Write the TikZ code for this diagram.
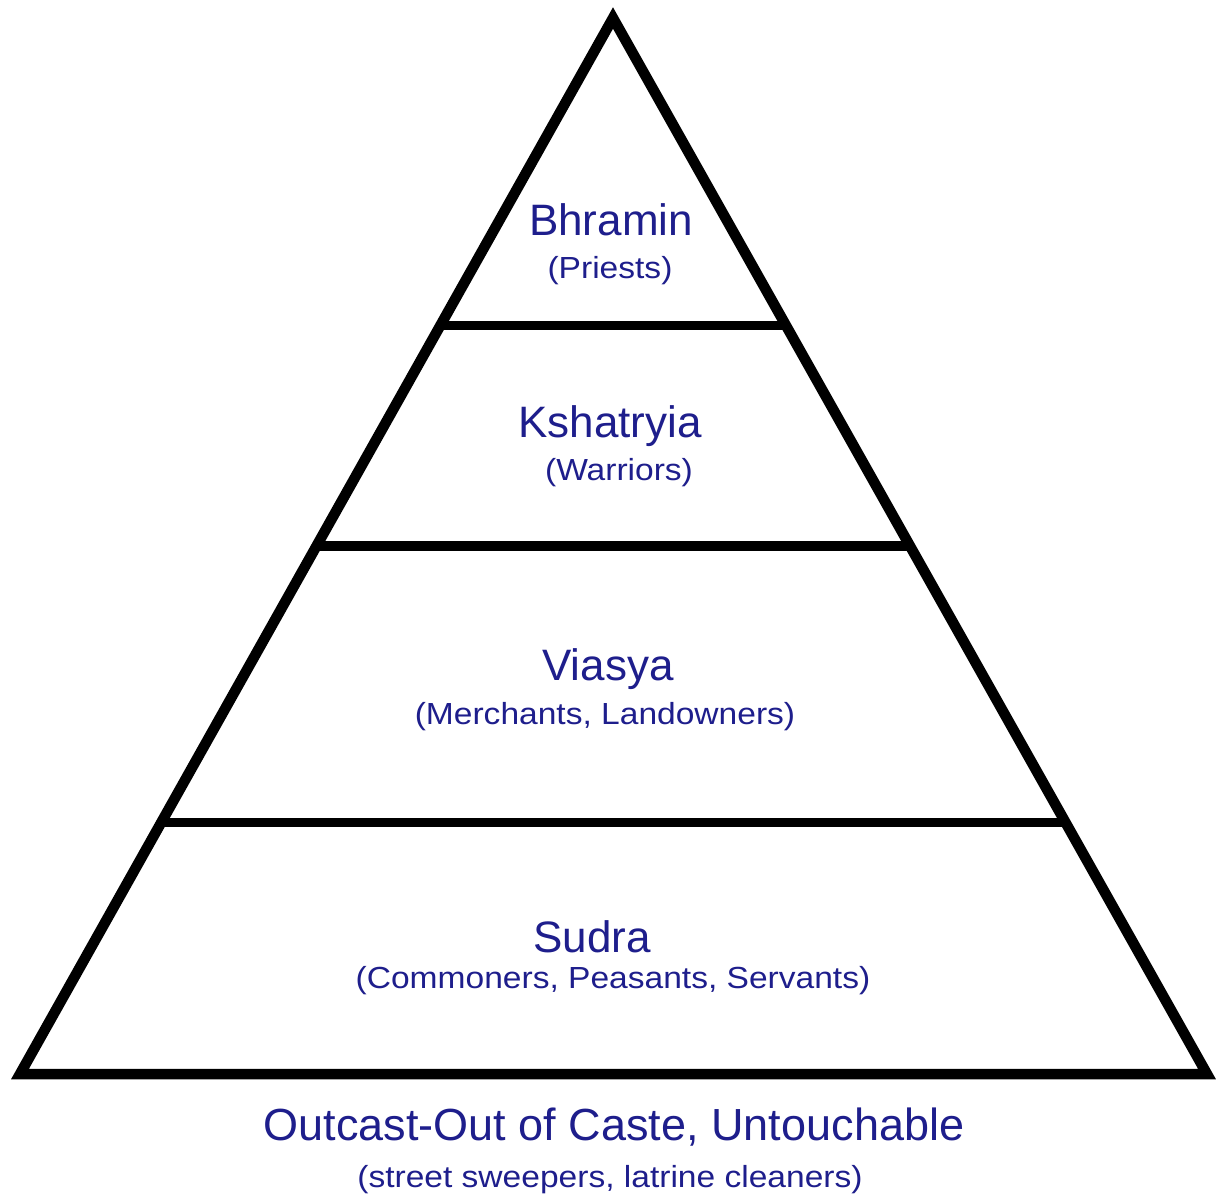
\documentclass[tikz,border=0pt]{standalone}
\usepackage{fontspec}
\usepackage{graphicx}
\setmainfont{Liberation Sans}
\usetikzlibrary{calc}
\definecolor{navy}{RGB}{30,30,140}
\tikzset{
  edge/.style={draw=black, line width=10.5pt, line join=miter, miter limit=10},
  tier/.style={draw=black, line width=9.5pt},
  title/.style={anchor=base, inner sep=0pt, text=navy, font=\fontsize{44}{44}\selectfont},
  sub/.style={anchor=base, inner sep=0pt, text=navy, font=\fontsize{30.5}{30.5}\selectfont},
}
\newcommand{\wide}[1]{\scalebox{1.1}[1]{#1}}
\begin{document}
\begin{tikzpicture}[x=1pt,y=-1pt]
\useasboundingbox (0,0) rectangle (1228,1200);
\fill[white] (0,0) rectangle (1228,1200);
\coordinate (A) at (613,18);
\coordinate (L) at (20,1074);
\coordinate (R) at (1207,1074);
\draw[edge] (A) -- (L) -- (R) -- cycle;
\coordinate (l1) at ($(L)!0.7087!(A)$);
\coordinate (r1) at ($(R)!0.7087!(A)$);
\coordinate (l2) at ($(L)!0.5!(A)$);
\coordinate (r2) at ($(R)!0.5!(A)$);
\coordinate (l3) at ($(L)!0.2381!(A)$);
\coordinate (r3) at ($(R)!0.2381!(A)$);
\draw[tier] (l1) -- (r1);
\draw[tier] (l2) -- (r2);
\draw[tier] (l3) -- (r3);
\node[title] (bh) at (611,235) {Bhramin};
\node[sub] (bhs) at (610,278) {\wide{(Priests)}};
\node[title] (ks) at (610,437) {Kshatryia};
\node[sub] (kss) at (619,480) {\wide{(Warriors)}};
\node[title] (vi) at (608,680) {Viasya};
\node[sub] (vis) at (605,724) {\wide{(Merchants, Landowners)}};
\node[title] (su) at (592,952) {Sudra};
\node[sub] (sus) at (613,988) {\wide{(Commoners, Peasants, Servants)}};
\node[title, font=\fontsize{45}{45}\selectfont] (out) at (614,1140) {Outcast-Out of Caste, Untouchable};
\node[sub] (outs) at (610,1187) {\wide{(street sweepers, latrine cleaners)}};
\end{tikzpicture}
\end{document}
